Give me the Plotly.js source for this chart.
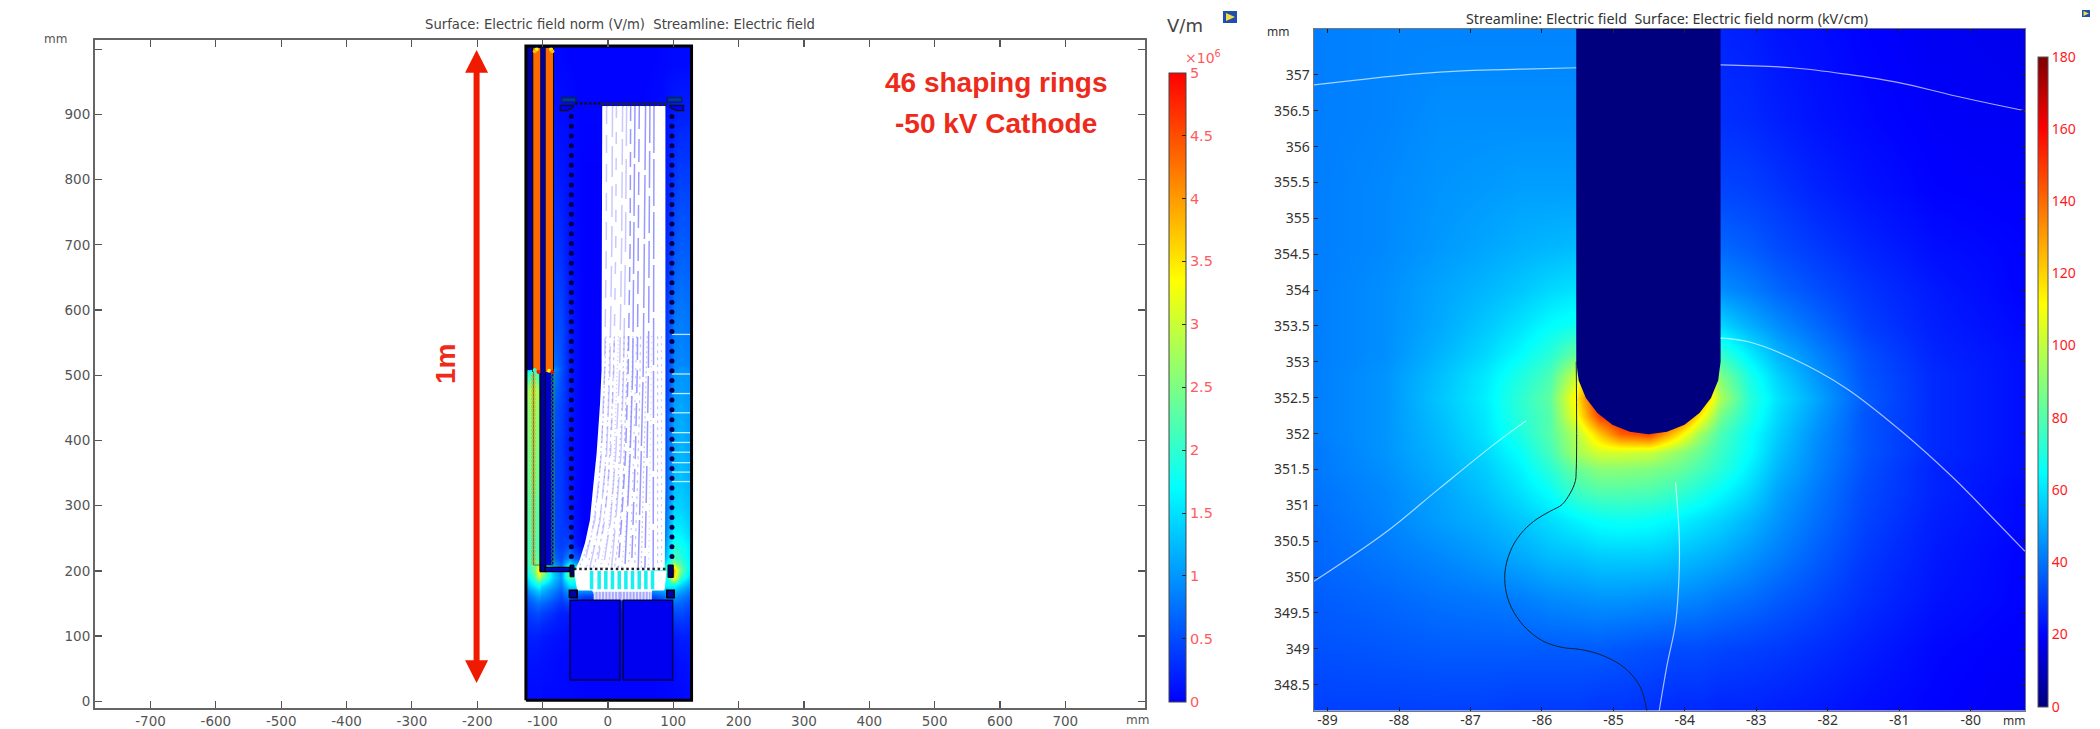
<!DOCTYPE html>
<html><head><meta charset="utf-8">
<script src="https://cdn.plot.ly/plotly-3.0.1.min.js"></script>
<style>html,body{margin:0;padding:0;background:#fff}</style></head>
<body><div id="chart" style="width:2100px;height:729px"></div>
<script>
// ---------- LEFT PANEL DATA (mm, field in 10^6 V/m) ----------
const leftTitle = 'Surface: Electric field norm (V/m)  Streamline: Electric field';
const rightTitle = 'Streamline: Electric field  Surface: Electric field norm (kV/cm)';
const leftXTicks = [-700,-600,-500,-400,-300,-200,-100,0,100,200,300,400,500,600,700];
const leftXText = ['-700','-600','-500','-400','-300','-200','-100','0','100','200','300','400','500','600','700'];
const leftYTicks = [0,100,200,300,400,500,600,700,800,900];
const leftYText = ['0','100','200','300','400','500','600','700','800','900'];
const leftYExtraTick = [1000];
const leftCbTicks = [0,0.5,1,1.5,2,2.5,3,3.5,4,4.5,5];
const leftCbText = ['0','0.5','1','1.5','2','2.5','3','3.5','4','4.5','5'];
const fieldXEdges = [-125.5,-119,-112,-107,-104,-102,-90,-78,-66,-52,-20,20,60,85,96,105,118,128];
const fieldYEdges = [1.8,40,80,120,150,170,185,195,207,220,260,340,450,505,515,640,760,860,950,1005];
const fieldZ = [
[.08,.08,.08,.08,.08,.06,.06,.05,.04,.03,.03,.03,.03,.04,.05,.06,.08],
[.12,.12,.12,.12,.1,.1,.08,.06,.05,.03,.03,.03,.03,.05,.07,.1,.12],
[.2,.2,.2,.2,.18,.15,.12,.1,.08,.04,.04,.04,.05,.1,.15,.2,.2],
[.4,.45,.5,.5,.45,.4,.3,.2,.2,.08,.08,.08,.1,.3,.45,.5,.4],
[.7,.85,1.0,1.05,1.0,.9,.7,.5,.8,.4,.4,.4,.5,.9,1.0,.85,.7],
[1.2,1.5,1.7,1.8,1.7,1.4,1.1,.8,1.5,1.6,1.6,1.6,1.6,1.7,1.7,1.4,1.1],
[1.6,2.0,2.5,2.9,2.8,2.2,1.4,1.0,2.3,1.6,1.6,1.6,1.6,1.9,3.6,2.0,1.5],
[1.9,2.3,2.9,3.8,3.6,2.5,1.4,.9,2.6,1.6,1.6,1.6,1.6,2.2,3.9,2.4,1.7],
[2.1,2.3,2.4,2.5,2.0,1.0,.9,.6,1.4,.6,.5,.5,1.0,1.7,2.5,2.1,1.7],
[2.15,2.2,2.2,2.2,.4,.4,.5,.4,.5,0,0,0,.4,1.3,1.9,1.8,1.6],
[2.3,2.3,2.3,2.3,.4,.4,.45,.4,.2,0,0,0,.15,.9,1.4,1.4,1.3],
[2.5,2.55,2.55,2.55,.4,.4,.45,.4,.15,0,0,0,.1,.7,1.1,1.2,1.1],
[2.75,2.8,2.8,2.8,.5,.6,.7,.5,.2,0,0,0,.1,.5,1.0,1.05,1.0],
[1.0,1.5,1.5,.8,.5,.7,1.0,.6,.2,0,0,0,.1,.5,.9,1.0,.95],
[.2,.2,.2,.2,.3,.4,.5,.5,.2,0,0,0,.1,.45,.8,.85,.8],
[.15,.15,.15,.15,.2,.3,.35,.3,.12,0,0,0,.08,.3,.55,.62,.6],
[.1,.1,.1,.1,.15,.2,.2,.15,.1,0,0,0,.05,.2,.35,.42,.4],
[.05,.05,.05,.05,.08,.1,.1,.08,.06,.02,.02,.02,.05,.12,.18,.2,.2],
[.02,.02,.02,.02,.03,.04,.04,.04,.03,.02,.02,.02,.03,.05,.06,.06,.06]];
const ringY = [897,882,867,852,837,822,807,792,777,762,747,732,717,702,687,672,657,642,627,612,597,582,567,552,537,522,507,492,477,462,447,432,417,402,387,372,357,342,327,312,297,282,267,252,237,222];
const ringLeftX = -56, ringRightX = 98;
const bellowY = [500,494,488,482,476,470,464,458,452,446,440,434,428,422,416,410,404,398,392,386,380,374,368,362,356,350,344,338,332,326,320,314,308,302,296,290,284,278,272,266,260,254,248,242,236,230,224,218,212];
const gridTeethX = [-8,0,8,16,24,32,40,48,56,64,72,80,88];
const gridDotsX = [-48,-41,-34,-27,-20,-14];
const bandTickX = [-50,-42,-34,-26,-18,-10,-2,6,14,22,30,38,46,54,62,70,78,86];
const cyanStripeX = [-25,-13.4,-3.2,7,17.3,27.5,37.7,47.9,58.1,68.3];
const lowerFanX = [-20,-15,-10,-5,0,5,10,15,22,27,32,37,42,47,52,57,62,66];
const whiteEdgeX = [-8.7,88,88,87,-52,-43,-35,-27.5,-22.6,-17.3,-12,-9.7];
const whiteEdgeY = [913,913,329,201,198,217,243,278,329,380,457,508];
const bandX = [-52,89.5,87,85,68,66,-22,-24,-47];
const bandY = [200,200,172,170,170,165,165,170,170];
const streamLevels = [913,700,508,380,278,205];
const fanLines = [
[-2,-2.5,-5,-10,-20,-37.7],[7,6,3,-2,-12,-27.5],[13,12,9,4,-5,-17.3],[22.5,21,18,12,4,-7],
[28.6,27,24,20,12,5.6],[34.8,34,31,27,21,15.8],[41.4,40,38,34,30,26],[48,47,45,42,39,36.2],
[57.7,56,54,51,48,46.4],[64.3,63,62,60,58,56.6],[70.5,70,70,70,69.5,69.3]];
const fanDashes = ['18px,11px','31px,9px','12px,14px','26px,7px','40px,13px','15px,8px','52px,6px','23px,10px','64px,5px','37px,8px','47px,6px'];
const dotLevels = [560,440,330,250,205];
const fanDots = [
[-3,-7,-14,-26,-44],[3,0,-6,-17,-33],[10,6,0,-10,-22],[16,12,8,-1,-12],[25,21,15,8,0],[31,27,23,17,10],
[38,35,31,26,21],[44,41,38,35,31],[50,48,45,43,41],[60,57,55,52,51],[67,65,64,63,62],[76,76,76,76,76],[82,82,82,82,82]];
const dotDashes = ['2px,3px','2px,5px','3px,4px','1px,3px','2px,4px','3px,3px','1px,4px','2px,6px','3px,5px','2px,3px','1px,5px','3px,4px','2px,5px'];
const sideStreamY = [562.7,502,472,442.5,412,397,382,366,351.5,337];
const spotX = [-109,-87,-112,-106,-90,-85,-112,-85];
const spotY = [1000,1000,508,505,507,505,997,997];
const spotV = [3.2,3.2,2.0,4.9,3.3,4.9,3.8,3.8];
const arrowX = [-201,-183.4,-196.4,-196.4,-183.4,-201,-218.6,-205.6,-205.6,-218.6];
const arrowY = [999,964,964,63,63,28,63,63,964,964];
// ---------- RIGHT PANEL DATA (mm, field in kV/cm) ----------
const rightXTicks = [-89,-88,-87,-86,-85,-84,-83,-82,-81,-80];
const rightXText = ['-89','-88','-87','-86','-85','-84','-83','-82','-81','-80'];
const rightYTicks = [348.5,349,349.5,350,350.5,351,351.5,352,352.5,353,353.5,354,354.5,355,355.5,356,356.5,357];
const rightYText = ['348.5','349','349.5','350','350.5','351','351.5','352','352.5','353','353.5','354','354.5','355','355.5','356','356.5','357'];
const rightCbTicks = [0,20,40,60,80,100,120,140,160,180];
const tipX = [-89.2,-88.2,-87.4,-86.8,-86.3,-85.9,-85.52,-85.2,-84.9,-84.5,-84.1,-83.8,-83.5,-83.1,-82.7,-82.2,-81.5,-80.5,-79.24];
const tipY = [348.14,349,349.7,350.3,350.8,351.2,351.5,351.75,352,352.25,352.5,352.8,353.1,353.5,354,354.6,355.4,356.4,357.64];
const tipZ = [
[31,31,31,31,30,30,30,29,29,28,27,27,26,26,25,24,22,20,18],
[34,35,36,36,36,36,36,36,35,34,33,33,32,31,30,28,25,21,19],
[36,38,40,41,42,44,45,46,46,45,44,43,41,39,36,33,28,23,20],
[38,41,44,47,50,53,54,56,56,56,54,52,50,46,42,37,30,24,20],
[39,43,48,51,55,59,63,66,67,66,63,60,57,52,46,40,32,25,21],
[40,44,49,54,60,66,76,80,80,79,75,70,65,58,49,42,33,26,21],
[41,45,51,56,63,72,84,90,90,88,84,78,72,62,52,44,34,26,22],
[41,46,52,58,66,77,95,104,104,102,92,84,75,65,54,45,35,27,22],
[42,46,53,60,70,80,98,122,142,148,118,94,78,66,56,46,35,27,22],
[42,46,54,61,72,80,110,148,160,160,150,115,86,70,58,48,35,27,22],
[42,46,55,62,73,82,115,160,160,160,150,135,96,72,60,50,36,27,22],
[42,46,54,61,70,78,103,150,160,160,150,130,88,69,57,47,35,27,22],
[42,45,52,58,65,72,84,120,130,130,120,100,75,62,52,44,34,26,22],
[42,45,50,55,60,65,68,60,50,45,45,50,58,51,45,39,31,25,21],
[42,45,49,52,55,58,60,50,45,40,38,40,45,42,38,34,29,24,20],
[42,44,47,49,51,52,53,48,42,38,35,35,38,36,33,30,26,22,20],
[42,44,46,47,48,48,48,44,40,36,32,31,32,31,29,26,23,20,19],
[42,43,45,45,45,45,45,42,38,34,30,28,28,27,25,23,21,19,18],
[42,43,43,43,43,43,43,40,36,32,28,26,26,25,23,22,20,18,17]];
const needleX = [-85.52,-85.52,-85.486,-85.385,-85.224,-85.015,-84.771,-84.51,-84.249,-84.005,-83.796,-83.635,-83.534,-83.5,-83.5];
const needleY = [357.64,353,352.739,352.495,352.286,352.125,352.024,351.99,352.024,352.125,352.286,352.495,352.739,353,357.64];
const wallX = [-85.52,-85.52,-85.535,-85.61,-85.72,-85.88,-86.07,-86.255,-86.41,-86.51,-86.51,-86.43,-86.255,-85.99,-85.72,-85.46,-85.16,-84.85,-84.63,-84.53];
const wallY = [353,351.5,351.33,351.16,351.01,350.92,350.81,350.65,350.43,350.13,349.84,349.58,349.32,349.11,349.02,348.99,348.91,348.74,348.48,348.13];
const sA = [[-89.19,-88.57,-87.81,-87.05,-86.29,-85.52],[356.86,356.93,357.01,357.06,357.08,357.10]];
const sB = [[-83.5,-82.5,-81.74,-80.99,-80.23,-79.24],[357.14,357.10,357.01,356.89,356.71,356.50]];
const sC = [[-83.5,-83.11,-82.5,-81.74,-80.99,-80.23,-79.62,-79.24],[353.33,353.28,353.05,352.63,352.05,351.37,350.75,350.36]];
const sD = [[-86.22,-86.67,-87.43,-88.19,-89.19],[352.18,351.85,351.24,350.62,349.94]];
const sE = [[-84.13,-84.08,-84.08,-84.13,-84.25,-84.36],[351.32,350.59,350.07,349.36,348.77,348.13]];

// ---------- STYLE ----------
const leftScale = [[0,'#0000ff'],[0.34,'#00ffff'],[0.67,'#ffff00'],[1,'#ff0000']];
const rightScale = [[0,'#00007f'],[0.11,'#0000ff'],[0.36,'#00ffff'],[0.62,'#ffff00'],[0.89,'#ff0000'],[1,'#7f0000']];
const W = 2100, H = 729;
const fx = p => p / W, fy = p => 1 - p / H;
const L = {x:'x', y:'y'}, R = {x:'x2', y:'y2'};
const FL = '"DejaVu Sans", sans-serif', FR = '"Noto Sans", sans-serif', FB = '"Liberation Sans", Arial, sans-serif';
const traces = [];
const poly = (ax, x, y, fill, lineColor, lw) => traces.push({type:'scatter', mode:'lines', xaxis:ax.x, yaxis:ax.y,
  x:x.concat([x[0]]), y:y.concat([y[0]]), fill:fill ? 'toself' : 'none', fillcolor:fill || undefined,
  line:{color:lineColor || 'rgba(0,0,0,0)', width:lw || 0}, hoverinfo:'skip', showlegend:false});
const path = (ax, x, y, color, w, dash, shape) => traces.push({type:'scatter', mode:'lines', xaxis:ax.x, yaxis:ax.y, x, y,
  line:{color, width:w, dash:dash || 'solid', shape:shape || 'linear'}, hoverinfo:'skip', showlegend:false});
const dots = (ax, x, y, marker) => traces.push({type:'scatter', mode:'markers', xaxis:ax.x, yaxis:ax.y, x, y, marker, hoverinfo:'skip', showlegend:false, cliponaxis:false});
const rect = (x0,x1,y0,y1,fill,lc,lw) => poly(L,[x0,x1,x1,x0],[y0,y0,y1,y1],fill,lc,lw);

traces.push({type:'heatmap', xaxis:'x', yaxis:'y', x:fieldXEdges, y:fieldYEdges, z:fieldZ, zmin:0, zmax:5, zsmooth:'best',
  colorscale:leftScale, hoverinfo:'skip',
  colorbar:{x:fx(1169), xanchor:'left', xpad:0, y:fy(72.7), yanchor:'top', ypad:0, lenmode:'pixels', len:629, thicknessmode:'pixels', thickness:17,
    outlinecolor:'#444', outlinewidth:1, tickmode:'array', tickvals:leftCbTicks, ticktext:leftCbText, ticks:'inside', ticklen:4, tickcolor:'#222',
    tickfont:{family:FL, size:14.5, color:'#ff5a60'}}});
// conductors and high-voltage strips
rect(-125.5,-114.8,508,1005,'#00009a');
rect(-104,-95,199,1005,'#00009a','#000',1.2);
rect(-95,-84,209,505,'#0000c8');
rect(-96.4,-58,199,205.5,'#0000c0','#000',1.3);
rect(-114.8,-103.6,505,1002,'#ff6a00');
rect(-95.2,-83.6,505,1002,'#ff6a00');
path(L,[-115,-115],[505,1002],'#000',1);
path(L,[-83.3,-83.3],[505,1002],'#000',1);
dots(L, spotX, spotY, {size:4, color:spotV, cmin:0, cmax:5, colorscale:leftScale});
path(L,[-114,-114,-84,-84],[505,209,209,505],'rgba(0,0,0,.6)',0.8);
dots(L, bellowY.map(()=>-114), bellowY, {symbol:'circle-open', size:3.5, line:{color:'rgba(0,0,0,.65)',width:0.7}});
dots(L, bellowY.map(()=>-84), bellowY, {symbol:'circle-open', size:3.5, line:{color:'rgba(0,0,0,.65)',width:0.7}});
// white streamline bundle
poly(L, whiteEdgeX, whiteEdgeY, '#ffffff');
poly(L, bandX, bandY, '#ffffff');
poly(L, [-22,67,67,-22], [168,168,155,155], '#a9a9ff');
cyanStripeX.forEach(x => path(L,[x,x],[200,172],'#19f0f0',3.5));
lowerFanX.forEach(x => path(L,[x,x],[169,155],'rgba(255,255,255,.7)',1.3));
fanLines.forEach((ln,i) => path(L, ln, streamLevels, i>4 ? 'rgba(70,70,255,.55)' : 'rgba(100,100,255,.35)', 1.5, fanDashes[i]));
fanDots.forEach((ln,i) => path(L, ln, dotLevels, 'rgba(110,110,255,.4)', 1.2, dotDashes[i]));
sideStreamY.forEach(y => path(L,[98,128],[y,y],'rgba(255,255,255,.75)',1.3));
dots(L, bandTickX, bandTickX.map(()=>203), {symbol:'square', size:2.5, color:'#223'});
// upper grid and caps
poly(L,[-70.8,-49,-49,-70.8],[919,919,926,926],'#003a9a','#00206a',1.5);
poly(L,[91,113,113,91],[919,919,926,926],'#003a9a','#00206a',1.5);
poly(L,[-73,-53,-53,-62,-73],[914,914,911,906,906],'#0000e0','#111',1.2);
poly(L,[116,95,95,104,116],[914,914,911,906,906],'#0000e0','#111',1.2);
dots(L, gridTeethX, gridTeethX.map(()=>916), {symbol:'triangle-down', size:5, color:'#222'});
dots(L, gridDotsX, gridDotsX.map(()=>917), {symbol:'square', size:2.5, color:'#111'});
// shaping rings
dots(L, ringY.map(()=>ringLeftX), ringY, {size:5, color:'#00004a'});
dots(L, ringY.map(()=>ringRightX), ringY, {size:5, color:'#00004a'});
// cathode assembly
poly(L,[-58,-52,-52,-58],[191,191,209,209],'#000070','#000',1);
poly(L,[92,100,100,92],[190,190,209,209],'#000070','#000',1);
poly(L,[-59,-47,-47,-59],[159,159,170.5,170.5],'#0000b0','#000',1.5);
poly(L,[90,101.5,101.5,90],[159,159,170.5,170.5],'#0000b0','#000',1.5);
rect(-58,18.4,32.5,155,'#0000f0','#00004a',1.5);
rect(23.4,99,32.5,155,'#0000f0','#00004a',1.5);
poly(L,[-125.5,128,128,-125.5],[1.8,1.8,1005,1005],null,'#000',3);
poly(L, arrowX, arrowY, '#f01a00');

// right panel
traces.push({type:'heatmap', xaxis:'x2', yaxis:'y2', x:tipX, y:tipY, z:tipZ, zmin:0, zmax:180, zsmooth:'best',
  colorscale:rightScale, hoverinfo:'skip',
  colorbar:{x:fx(2038), xanchor:'left', xpad:0, y:fy(56.7), yanchor:'top', ypad:0, lenmode:'pixels', len:649.5, thicknessmode:'pixels', thickness:9.5,
    outlinecolor:'#555', outlinewidth:1, tickmode:'array', tickvals:rightCbTicks, ticks:'', tickfont:{family:FR, size:14, color:'#ff1a1a'}}});
poly(R, needleX, needleY, '#00007f');
path(R, wallX, wallY, '#123', 1, 'solid', 'spline');
[sA,sB,sC,sD,sE].forEach(s => path(R, s[0], s[1], 'rgba(255,255,255,.65)', 1.2, 'solid', 'spline'));

const note = (text,px,py,size,color,family,extra) => Object.assign({xref:'paper',yref:'paper',x:fx(px),y:fy(py),text,showarrow:false,
  xanchor:'center',yanchor:'middle',font:{size,color,family}},extra||{});
const bold = s => ({font:{size:s,color:'#ee2a1a',family:FB,weight:700}});
const annotations = [
  note(rightTitle,1667,19,14.3,'#333',FR),
  note('mm',55,39,12,'#555',FL),
  note('mm',1137,720,12,'#555',FL),
  note('mm',1278,32,12,'#333',FR),
  note('mm',2014,720,12,'#333',FR),
  note('V/m',1185,25,18,'#444',FL),
  note('×10<sup>6</sup>',1203,57,14,'#ff5a60',FL),
  note('46 shaping rings',996,83,28,'#ee2a1a',FB,bold(28)),
  note('-50 kV Cathode',996,124,28,'#ee2a1a',FB,bold(28)),
  note('1m',445,364,28,'#ee2a1a',FB,Object.assign({textangle:-90},bold(28)))
];
const axisLeft = {showline:true, mirror:'ticks', linecolor:'#666', linewidth:2, ticks:'inside', ticklen:7, tickcolor:'#555', tickwidth:1.2, zeroline:false, showgrid:false,
  tickfont:{family:FL, size:13.5, color:'#555'}, tickmode:'array'};
const axisRight = {showline:true, mirror:'ticks', linecolor:'#777', linewidth:1, ticks:'inside', ticklen:4, tickcolor:'#222', tickwidth:1, zeroline:false, showgrid:false,
  tickfont:{family:FR, size:14, color:'#333'}, tickmode:'array'};
const layout = {
  width:W, height:H, margin:{l:0,r:0,t:0,b:0,autoexpand:false}, paper_bgcolor:'#fff', plot_bgcolor:'#fff', showlegend:false,
  title:{text:leftTitle, x:fx(620), y:fy(24), xanchor:'center', yanchor:'middle', font:{family:FL, size:13.2, color:'#444'}},
  xaxis:Object.assign({}, axisLeft, {domain:[fx(95),fx(1145)], range:[-785,822], tickvals:leftXTicks, ticktext:leftXText, anchor:'y', ticklabelstandoff:0}),
  yaxis:Object.assign({}, axisLeft, {domain:[fy(707.5),fy(39.5)], range:[-9.5,1015], tickvals:leftYTicks, ticktext:leftYText, anchor:'x',
    minor:{tickmode:'array', tickvals:leftYExtraTick, ticks:'inside', ticklen:7, tickcolor:'#555', tickwidth:1.2}}),
  xaxis2:Object.assign({}, axisRight, {domain:[fx(1313.5),fx(2025)], range:[-89.197,-79.24], tickvals:rightXTicks, ticktext:rightXText, anchor:'y2', ticklabelstandoff:-3}),
  yaxis2:Object.assign({}, axisRight, {domain:[fy(710.5),fy(29)], range:[348.14,357.64], tickvals:rightYTicks, ticktext:rightYText, anchor:'x2'}),
  annotations,
  shapes:[
    {type:'rect',xref:'paper',yref:'paper',x0:fx(1223),x1:fx(1237),y0:fy(23),y1:fy(11),fillcolor:'#1f4fa8',line:{width:0}},
    {type:'path',xref:'paper',yref:'paper',path:`M ${fx(1226)} ${fy(13)} L ${fx(1235)} ${fy(17)} L ${fx(1226)} ${fy(21)} Z`,fillcolor:'#f2d94e',line:{width:0}},
    {type:'rect',xref:'paper',yref:'paper',x0:fx(2082),x1:fx(2090),y0:fy(17),y1:fy(10),fillcolor:'#1f4fa8',line:{width:0}},
    {type:'path',xref:'paper',yref:'paper',path:`M ${fx(2083.5)} ${fy(11)} L ${fx(2089)} ${fy(13.5)} L ${fx(2083.5)} ${fy(16)} Z`,fillcolor:'#f2d94e',line:{width:0}}
  ]
};
Plotly.newPlot('chart', traces, layout, {displayModeBar:false, staticPlot:true});
</script></body></html>
